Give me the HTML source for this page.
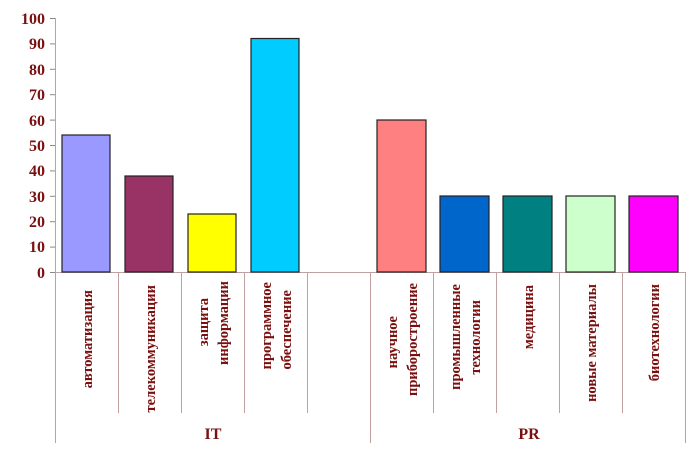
<!DOCTYPE html>
<html><head><meta charset="utf-8"><style>body{margin:0;background:#fff}svg{display:block}</style></head>
<body>
<svg width="700" height="450" xmlns="http://www.w3.org/2000/svg" font-family="Liberation Serif, serif" font-weight="bold" fill="#7a0f0f">
<g stroke="#c0a0a0" stroke-width="1">
<line x1="55.5" y1="18" x2="55.5" y2="443"/>
<line x1="55" y1="272.5" x2="686" y2="272.5"/>
<line x1="118.5" y1="272" x2="118.5" y2="413"/>
<line x1="181.5" y1="272" x2="181.5" y2="413"/>
<line x1="244.5" y1="272" x2="244.5" y2="413"/>
<line x1="307.5" y1="272" x2="307.5" y2="413"/>
<line x1="370.5" y1="272" x2="370.5" y2="443"/>
<line x1="433.5" y1="272" x2="433.5" y2="413"/>
<line x1="496.5" y1="272" x2="496.5" y2="413"/>
<line x1="559.5" y1="272" x2="559.5" y2="413"/>
<line x1="622.5" y1="272" x2="622.5" y2="413"/>
<line x1="685.5" y1="272" x2="685.5" y2="443"/>
</g>
<g stroke="#888" stroke-width="1">
<line x1="50" y1="18.5" x2="55" y2="18.5"/><line x1="50" y1="43.9" x2="55" y2="43.9"/><line x1="50" y1="69.3" x2="55" y2="69.3"/><line x1="50" y1="94.7" x2="55" y2="94.7"/><line x1="50" y1="120.1" x2="55" y2="120.1"/><line x1="50" y1="145.5" x2="55" y2="145.5"/><line x1="50" y1="170.9" x2="55" y2="170.9"/><line x1="50" y1="196.3" x2="55" y2="196.3"/><line x1="50" y1="221.7" x2="55" y2="221.7"/><line x1="50" y1="247.1" x2="55" y2="247.1"/><line x1="50" y1="272.5" x2="55" y2="272.5"/>
</g>
<g font-size="16" text-anchor="end">
<text x="45" y="24">100</text><text x="45" y="49">90</text><text x="45" y="75">80</text><text x="45" y="100">70</text><text x="45" y="126">60</text><text x="45" y="151">50</text><text x="45" y="176">40</text><text x="45" y="202">30</text><text x="45" y="227">20</text><text x="45" y="252">10</text><text x="45" y="278">0</text>
</g>
<g stroke="#222" stroke-width="1.2">
<rect x="62" y="135" width="48" height="137" fill="#9999FF"/>
<rect x="125" y="176" width="48" height="96" fill="#993366"/>
<rect x="188" y="214" width="48" height="58" fill="#FFFF00"/>
<rect x="251" y="38.5" width="48" height="233.5" fill="#00CCFF"/>
<rect x="377" y="120" width="49" height="152" fill="#FF8080"/>
<rect x="440" y="196" width="49" height="76" fill="#0066CC"/>
<rect x="503" y="196" width="49" height="76" fill="#008080"/>
<rect x="566" y="196" width="49" height="76" fill="#CCFFCC"/>
<rect x="629" y="196" width="49" height="76" fill="#FF00FF"/>
</g>
<g font-size="14.5" text-anchor="end">
<text transform="translate(92,290) rotate(-90)">автоматизация</text>
<text transform="translate(155,285) rotate(-90)">телекоммуникации</text>
<text transform="translate(208,298) rotate(-90)">защита</text>
<text transform="translate(228,281) rotate(-90)">информации</text>
<text transform="translate(271,282) rotate(-90)">программное</text>
<text transform="translate(291,290) rotate(-90)">обеспечение</text>
<text transform="translate(397,316) rotate(-90)">научное</text>
<text transform="translate(417,283) rotate(-90)">приборостроение</text>
<text transform="translate(460,284) rotate(-90)">промышленные</text>
<text transform="translate(480,300) rotate(-90)">технологии</text>
<text transform="translate(533,285) rotate(-90)">медицина</text>
<text transform="translate(596,284) rotate(-90)">новые материалы</text>
<text transform="translate(659,284) rotate(-90)">биотехнологии</text>
</g>
<g font-size="16" text-anchor="middle">
<text x="213" y="439">IT</text>
<text x="529" y="439">PR</text>
</g>
</svg>
</body></html>
